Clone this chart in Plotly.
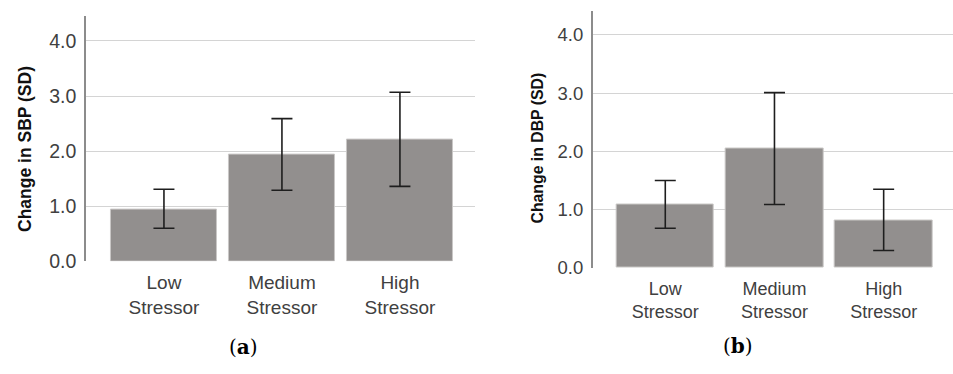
import plotly.graph_objects as go

categories = ["Low<br>Stressor", "Medium<br>Stressor", "High<br>Stressor"]

sbp_mean = [0.94, 1.94, 2.21]
sbp_upper = [1.31, 2.59, 3.07]
sbp_lower = [0.60, 1.29, 1.36]

dbp_mean = [1.08, 2.05, 0.82]
dbp_upper = [1.50, 3.01, 1.35]
dbp_lower = [0.68, 1.09, 0.30]

y_ticks = [0, 1, 2, 3, 4]
y_tick_labels = ["0.0", "1.0", "2.0", "3.0", "4.0"]

BAR = "#928f8e"
ERR = "#1e1e1e"
SANS = "Liberation Sans, Arial"


def bar_trace(mean, upper, lower, xa, ya):
    return go.Bar(
        x=list(range(len(categories))), y=mean,
        marker=dict(color=BAR, line=dict(color="#c9c7c6", width=1)),
        width=0.894,
        error_y=dict(
            type="data", symmetric=False,
            array=[u - m for u, m in zip(upper, mean)],
            arrayminus=[m - l for m, l in zip(mean, lower)],
            color=ERR, thickness=1.6, width=10.5,
        ),
        xaxis=xa, yaxis=ya, showlegend=False,
    )


fig = go.Figure()
fig.add_trace(bar_trace(sbp_mean, sbp_upper, sbp_lower, "x", "y"))
fig.add_trace(bar_trace(dbp_mean, dbp_upper, dbp_lower, "x2", "y2"))

xcommon = dict(
    tickmode="array", tickvals=list(range(3)), ticktext=categories,
    ticks="", showgrid=False, zeroline=False, showline=False,
    ticklabelstandoff=8,
)
ycommon = dict(
    tickmode="array", tickvals=y_ticks, ticktext=y_tick_labels,
    showgrid=True, gridcolor="#d4d4d4", gridwidth=1.3,
    zeroline=False, showline=True, linecolor="#8c8c8c", linewidth=1.5,
    ticks="", ticklabelstandoff=4,
)

fig.update_layout(
    width=953, height=374,
    margin=dict(l=0, r=0, t=0, b=0),
    paper_bgcolor="white", plot_bgcolor="white",
    bargap=0,
    xaxis=dict(domain=[0.0902, 0.4984], range=[-0.661, 2.636], anchor="y",
               tickfont=dict(family=SANS, size=19, color="#404040"), **xcommon),
    yaxis=dict(domain=[0.280, 0.957], range=[0, 4.46], anchor="x",
               tickfont=dict(family=SANS, size=19.5, color="#404040"), **ycommon),
    xaxis2=dict(domain=[0.6219, 1.0], range=[-0.665, 2.635], anchor="y2",
                tickfont=dict(family=SANS, size=18, color="#404040"), **xcommon),
    yaxis2=dict(domain=[0.262, 0.971], range=[0, 4.42], anchor="x2",
                tickfont=dict(family=SANS, size=18.5, color="#404040"), **ycommon),
    annotations=[
        dict(text="<b>Change in SBP (SD)</b>", textangle=-90, x=25.5 / 953, y=1 - 154 / 374,
             xref="paper", yref="paper", showarrow=False, xanchor="center", yanchor="middle",
             font=dict(family=SANS, size=17.5, color="#111")),
        dict(text="<b>Change in DBP (SD)</b>", textangle=-90, x=537.5 / 953, y=1 - 152.5 / 374,
             xref="paper", yref="paper", showarrow=False, xanchor="center", yanchor="middle",
             font=dict(family=SANS, size=15.8, color="#111")),
        dict(text="(<b>a</b>)", x=244 / 953, y=1 - 358 / 374, xref="paper", yref="paper",
             showarrow=False, xanchor="center", yanchor="middle",
             font=dict(family="DejaVu Serif, Liberation Serif", size=20, color="black")),
        dict(text="(<b>b</b>)", x=738 / 953, y=1 - 356 / 374, xref="paper", yref="paper",
             showarrow=False, xanchor="center", yanchor="middle",
             font=dict(family="DejaVu Serif, Liberation Serif", size=20, color="black")),
    ],
)

fig.write_html("out.html")
